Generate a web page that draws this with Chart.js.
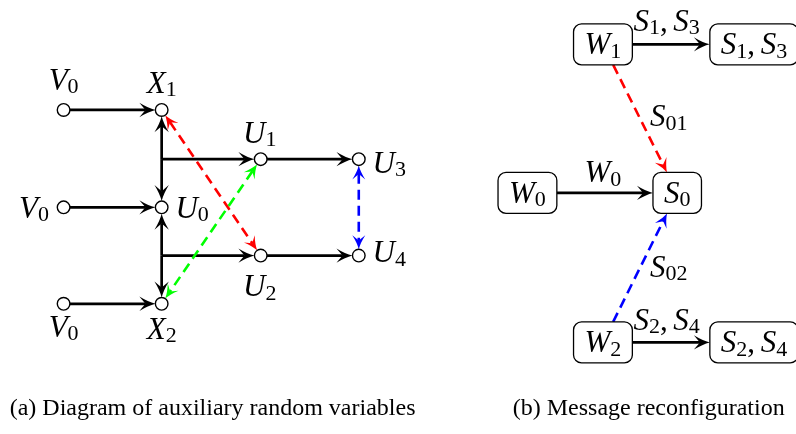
<!DOCTYPE html>
<html>
<head>
<meta charset="utf-8">
<script src="https://cdn.jsdelivr.net/npm/chart.js@4.4.1/dist/chart.umd.min.js"></script>
<style>
  html, body { margin: 0; padding: 0; background: #fff; }
  #wrap { width: 796px; height: 434px; }
</style>
</head>
<body>
<div id="wrap"><canvas id="diagram" width="796" height="434"></canvas></div>
<script>
// (a) auxiliary random variables: nodes
const nodeIds = ["Va", "X1", "U1", "U3", "Vb", "U0", "U2", "U4", "Vc", "X2"]
const nodeX = [57, 157, 258, 358, 57, 157, 258, 358, 57, 157]
const nodeY = [106, 106, 157, 157, 207, 207, 257, 257, 307, 307]
const nodeLabels = ["V_0", "X_1", "U_1", "U_3", "V_0", "U_0", "U_2", "U_4", "V_0", "X_2"]
const labelX = [57, 157, 257, 372, 42, 171, 257, 372, 57, 157]
const labelY = [85, 88, 140, 171, 218, 218, 299, 264, 341, 343]
const labelAlign = ["center", "center", "center", "left", "right", "left", "center", "left", "center", "center"]

// branch points on the vertical line
const junctionIds = ["J1", "J2"]
const junctionX = [157, 157]
const junctionY = [157, 257]

const solidEdges = [
  ["Va", "X1"], ["Vb", "U0"], ["Vc", "X2"],
  ["J1", "X1"], ["J1", "U0"], ["J2", "U0"], ["J2", "X2"],
  ["J1", "U1"], ["J2", "U2"], ["U1", "U3"], ["U2", "U4"],
]
const dashedEdges = [["X1", "U2", "#ff0000"], ["U1", "X2", "#00ff00"], ["U3", "U4", "#0000ff"]]

// (b) message reconfiguration: boxes
const boxIds = ["W1", "S13", "W0", "S0", "W2", "S24"]
const boxText = ["W_1", "S_1, S_3", "W_0", "S_0", "W_2", "S_2, S_4"]
const boxLeft = [577, 716, 500, 658, 577, 716]
const boxMidY = [38, 38, 192, 192, 347, 347]

const boxEdges = [["W1", "S13", "#000"], ["W0", "S0", "#000"], ["W2", "S24", "#000"], ["W1", "S0", "#ff0000"], ["W2", "S0", "#0000ff"]]
const edgeLabels = ["S_1, S_3", "W_0", "S_2, S_4", "S_{01}", "S_{02}"]
const edgeLabelX = [672, 607, 672, 655, 655]
const edgeLabelY = [24, 181, 334, 123, 279]
const edgeLabelAlign = ["center", "center", "center", "left", "left"]

const captions = ["(a) Diagram of auxiliary random variables", "(b) Message reconfiguration"]
const captionX = [2, 515]
const captionY = [422, 422]

const NODE_R = 6.3
const BOX_PAD = 11
const BOX_H = 41
const MAIN_SIZE = 31
const SUB_SIZE = 22
const SUB_DROP = 3.5
const SERIF = '"Times New Roman", Tinos, serif'

function tokens(str) {
  const out = []
  let i = 0
  while (i < str.length) {
    const c = str[i]
    if (c === "_") {
      let t = ""
      if (str[i + 1] === "{") {
        const j = str.indexOf("}", i)
        t = str.slice(i + 2, j)
        i = j + 1
      } else {
        t = str[i + 1]
        i += 2
      }
      out.push({ t, kind: "sub" })
    } else if (/[A-Za-z]/.test(c)) {
      out.push({ t: c, kind: "it" })
      i++
    } else if (c === " ") {
      out.push({ t: " ", kind: "space" })
      i++
    } else {
      out.push({ t: c, kind: "rm" })
      i++
    }
  }
  return out
}

function fontFor(kind) {
  if (kind === "it") return `italic ${MAIN_SIZE}px ${SERIF}`
  if (kind === "sub") return `${SUB_SIZE}px ${SERIF}`
  return `${MAIN_SIZE}px ${SERIF}`
}

function tokenWidth(ctx, tk) {
  if (tk.kind === "space") return MAIN_SIZE * 0.18
  ctx.font = fontFor(tk.kind)
  return ctx.measureText(tk.t).width
}

function mathWidth(ctx, str) {
  return tokens(str).reduce((s, tk) => s + tokenWidth(ctx, tk), 0)
}

function drawMath(ctx, str, x, y, align) {
  const w = mathWidth(ctx, str)
  let cx = align === "center" ? x - w / 2 : align === "right" ? x - w : x
  ctx.fillStyle = "#000"
  ctx.textAlign = "left"
  ctx.textBaseline = "alphabetic"
  tokens(str).forEach((tk) => {
    const tw = tokenWidth(ctx, tk)
    if (tk.kind !== "space") {
      ctx.font = fontFor(tk.kind)
      ctx.fillText(tk.t, cx, tk.kind === "sub" ? y + SUB_DROP : y)
    }
    cx += tw
  })
}

function arrowHead(ctx, x, y, ang, color, L, W) {
  ctx.save()
  ctx.translate(x, y)
  ctx.rotate(ang)
  ctx.fillStyle = color
  ctx.beginPath()
  ctx.moveTo(0, 0)
  ctx.quadraticCurveTo(-L * 0.45, -W * 0.25, -L, -W)
  ctx.lineTo(-L * 0.62, 0)
  ctx.lineTo(-L, W)
  ctx.quadraticCurveTo(-L * 0.45, W * 0.25, 0, 0)
  ctx.closePath()
  ctx.fill()
  ctx.restore()
}

// draw a segment p->q with heads; p/q are pixel points
function drawArrow(ctx, p, q, color, dashed, headStart, headEnd) {
  const dx = q.x - p.x
  const dy = q.y - p.y
  const len = Math.hypot(dx, dy)
  const ux = dx / len
  const uy = dy / len
  const L = dashed ? 14 : 16
  const W = dashed ? 6.5 : 7.2
  const back = L * 0.6
  const s = headStart ? { x: p.x + ux * back, y: p.y + uy * back } : p
  const e = headEnd ? { x: q.x - ux * back, y: q.y - uy * back } : q
  ctx.save()
  ctx.strokeStyle = color
  ctx.lineWidth = dashed ? 2.6 : 2.7
  ctx.lineCap = "butt"
  ctx.setLineDash(dashed ? [10, 6] : [])
  ctx.beginPath()
  ctx.moveTo(s.x, s.y)
  ctx.lineTo(e.x, e.y)
  ctx.stroke()
  ctx.restore()
  const ang = Math.atan2(dy, dx)
  if (headEnd) arrowHead(ctx, q.x, q.y, ang, color, L, W)
  if (headStart) arrowHead(ctx, p.x, p.y, ang + Math.PI, color, L, W)
}

function roundRect(ctx, x, y, w, h, r) {
  ctx.beginPath()
  ctx.moveTo(x + r, y)
  ctx.arcTo(x + w, y, x + w, y + h, r)
  ctx.arcTo(x + w, y + h, x, y + h, r)
  ctx.arcTo(x, y + h, x, y, r)
  ctx.arcTo(x, y, x + w, y, r)
  ctx.closePath()
}

const diagramPlugin = {
  id: "diagram",
  beforeDatasetsDraw(chart) {
    const { ctx, scales } = chart
    const px = (v) => scales.x.getPixelForValue(v)
    const py = (v) => scales.y.getPixelForValue(v)

    // left: circle nodes and junctions
    const pt = (id) => {
      let i = nodeIds.indexOf(id)
      if (i >= 0) return { x: px(nodeX[i]), y: py(nodeY[i]), r: NODE_R }
      i = junctionIds.indexOf(id)
      return { x: px(junctionX[i]), y: py(junctionY[i]), r: 0 }
    }
    const clipCircle = (a, b) => {
      const dx = b.x - a.x
      const dy = b.y - a.y
      const len = Math.hypot(dx, dy)
      return [
        { x: a.x + (dx / len) * a.r, y: a.y + (dy / len) * a.r },
        { x: b.x - (dx / len) * b.r, y: b.y - (dy / len) * b.r },
      ]
    }
    solidEdges.forEach(([f, t]) => {
      const [p, q] = clipCircle(pt(f), pt(t))
      drawArrow(ctx, p, q, "#000", false, false, true)
    })
    dashedEdges.forEach(([f, t, c]) => {
      const [p, q] = clipCircle(pt(f), pt(t))
      drawArrow(ctx, p, q, c, true, true, true)
    })

    // right: box edges
    const box = (id) => {
      const i = boxIds.indexOf(id)
      const w = mathWidth(ctx, boxText[i]) + BOX_PAD * 2
      const x0 = px(boxLeft[i])
      return { cx: x0 + w / 2, cy: py(boxMidY[i]), hw: w / 2, hh: BOX_H / 2 }
    }
    const exitPt = (b, ux, uy) => {
      const t = Math.min(ux ? b.hw / Math.abs(ux) : Infinity, uy ? b.hh / Math.abs(uy) : Infinity)
      return { x: b.cx + ux * t, y: b.cy + uy * t }
    }
    boxEdges.forEach(([f, t, c]) => {
      const a = box(f)
      const b = box(t)
      const solid = c === "#000"
      const dx = b.cx - a.cx
      const dy = solid ? 0 : b.cy - a.cy
      const len = Math.hypot(dx, dy)
      const ux = dx / len
      const uy = dy / len
      const p = exitPt(a, ux, uy)
      const q = exitPt(b, -ux, -uy)
      if (solid) {
        p.y = a.cy
        q.y = a.cy
      }
      drawArrow(ctx, p, q, c, !solid, false, true)
    })
  },
  afterDatasetsDraw(chart) {
    const { ctx, scales } = chart
    const px = (v) => scales.x.getPixelForValue(v)
    const py = (v) => scales.y.getPixelForValue(v)

    nodeLabels.forEach((lab, i) => drawMath(ctx, lab, px(labelX[i]), py(labelY[i]), labelAlign[i]))

    boxText.forEach((txt, i) => {
      const w = mathWidth(ctx, txt) + BOX_PAD * 2
      const x0 = px(boxLeft[i])
      const y0 = py(boxMidY[i]) - BOX_H / 2
      ctx.save()
      roundRect(ctx, x0, y0, w, BOX_H, 8)
      ctx.fillStyle = "#fff"
      ctx.fill()
      ctx.strokeStyle = "#000"
      ctx.lineWidth = 1.3
      ctx.stroke()
      ctx.restore()
      drawMath(ctx, txt, x0 + BOX_PAD, py(boxMidY[i]) + 10, "left")
    })

    edgeLabels.forEach((lab, i) => drawMath(ctx, lab, px(edgeLabelX[i]), py(edgeLabelY[i]), edgeLabelAlign[i]))

    ctx.save()
    ctx.fillStyle = "#000"
    ctx.font = `24px ${SERIF}`
    ctx.textAlign = "left"
    ctx.textBaseline = "alphabetic"
    captions.forEach((c, i) => ctx.fillText(c, px(captionX[i]), py(captionY[i])))
    ctx.restore()
  },
}

new Chart(document.getElementById("diagram"), {
  type: "scatter",
  data: {
    datasets: [
      {
        data: nodeX.map((x, i) => ({ x, y: nodeY[i] })),
        pointRadius: NODE_R,
        pointBackgroundColor: "#fff",
        pointBorderColor: "#000",
        pointBorderWidth: 1.4,
        pointHoverRadius: NODE_R,
        clip: false,
      },
    ],
  },
  options: {
    responsive: false,
    devicePixelRatio: 1,
    animation: false,
    events: [],
    layout: { padding: 0 },
    plugins: { legend: { display: false }, tooltip: { enabled: false } },
    scales: {
      x: { type: "linear", min: 0, max: 796, display: false },
      y: { type: "linear", min: 0, max: 434, reverse: true, display: false },
    },
  },
  plugins: [diagramPlugin],
})
</script>
</body>
</html>
